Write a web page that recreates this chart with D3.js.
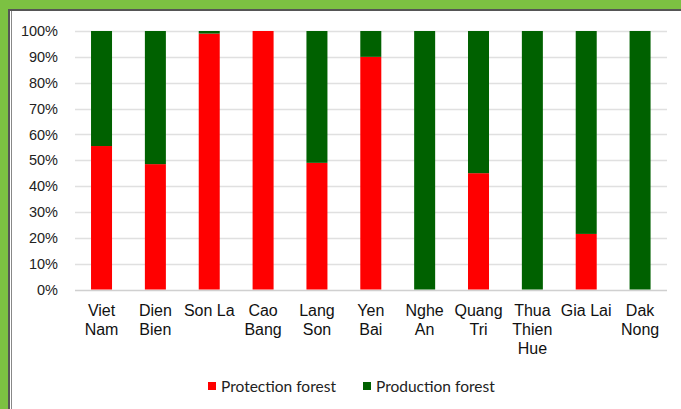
<!DOCTYPE html>
<html>
<head>
<meta charset="utf-8">
<script src="https://cdn.jsdelivr.net/npm/d3@7"></script>
<style>
  html, body { margin: 0; padding: 0; background: #7cc142; }
  svg { display: block; }
</style>
</head>
<body>
<svg width="681" height="409"></svg>
<script>
// provinces, two-line labels
const provinces = ["Viet Nam", "Dien Bien", "Son La", "Cao Bang", "Lang Son", "Yen Bai",
  "Nghe An", "Quang Tri", "Thua Thien Hue", "Gia Lai", "Dak Nong"];
const labelLines = [["Viet", "Nam"], ["Dien", "Bien"], ["Son La"], ["Cao", "Bang"], ["Lang", "Son"],
  ["Yen", "Bai"], ["Nghe", "An"], ["Quang", "Tri"], ["Thua", "Thien", "Hue"], ["Gia Lai"], ["Dak", "Nong"]];
// share of protection forest (%), rest is production forest
const protection = [55.5, 48.5, 99, 100, 49, 90, 0, 45, 0, 21.5, 0];
const production = protection.map(p => 100 - p);
const yTicks = [0, 10, 20, 30, 40, 50, 60, 70, 80, 90, 100];
const seriesNames = ["Protection forest", "Production forest"];
const seriesColors = ["#ff0000", "#006100"];

const svg = d3.select("svg");

// white chart area with dark frame
svg.append("rect")
  .attr("x", 9).attr("y", 10).attr("width", 700).attr("height", 420)
  .style("fill", "white").style("stroke", "#555").style("stroke-width", 2);
svg.append("line")
  .attr("x1", 11.5).attr("x2", 11.5).attr("y1", 11).attr("y2", 409)
  .style("stroke", "#888").style("stroke-width", 1);

const x = d3.scaleBand()
  .domain(provinces)
  .range([74.6, 667]);

const y = d3.scaleLinear()
  .domain([0, 100])
  .range([289.5, 31]);

// gridlines
svg.append("g")
  .selectAll("line")
  .data(yTicks)
  .enter()
  .append("line")
  .attr("x1", 75).attr("x2", 667)
  .attr("y1", d => Math.round(y(d)) + 0.5)
  .attr("y2", d => Math.round(y(d)) + 0.5)
  .style("stroke", d => d === 0 ? "#d0d0d0" : "#e0e0e0")
  .style("stroke-width", 1.5);

// y axis labels
const yAxis = d3.axisLeft(y)
  .tickValues(yTicks)
  .tickFormat(d => d + "%")
  .tickSize(0)
  .tickPadding(0);

svg.append("g")
  .attr("transform", "translate(58,0)")
  .call(yAxis)
  .call(g => g.select(".domain").remove())
  .selectAll("text")
  .style("font-family", "'Liberation Sans', Arial, sans-serif")
  .style("font-size", "14.5px")
  .style("fill", "#222");

// stacked bars
const stackData = provinces.map((p, i) => ({ name: p, protection: protection[i], production: production[i] }));
const stack = d3.stack().keys(["protection", "production"])(stackData);
const barW = x.bandwidth() * 0.39;

svg.append("g")
  .selectAll("g")
  .data(stack)
  .enter()
  .append("g")
  .style("fill", (d, i) => seriesColors[i])
  .selectAll("rect")
  .data(d => d)
  .enter()
  .append("rect")
  .attr("x", d => x(d.data.name) + (x.bandwidth() - barW) / 2)
  .attr("width", barW)
  .attr("y", d => y(d[1]))
  .attr("height", d => y(d[0]) - y(d[1]));

// category labels
const cats = svg.append("g")
  .selectAll("text")
  .data(provinces)
  .enter()
  .append("text")
  .attr("x", d => x(d) + x.bandwidth() / 2)
  .attr("y", 316)
  .attr("text-anchor", "middle")
  .style("font-family", "'Liberation Sans', Arial, sans-serif")
  .style("font-size", "16px")
  .style("fill", "#111");

cats.selectAll("tspan")
  .data((d, i) => labelLines[i])
  .enter()
  .append("tspan")
  .attr("x", function () { return d3.select(this.parentNode).attr("x"); })
  .attr("dy", (d, i) => i === 0 ? 0 : 19)
  .text(d => d);

// legend
const legendX = [208, 363];
const legend = svg.append("g")
  .selectAll("g")
  .data(seriesNames)
  .enter()
  .append("g")
  .attr("transform", (d, i) => `translate(${legendX[i]},382)`);

legend.append("rect")
  .attr("width", 8).attr("height", 8)
  .style("fill", (d, i) => seriesColors[i]);

legend.append("text")
  .attr("x", 13)
  .attr("y", 9.5)
  .text(d => d)
  .style("font-family", "Lato, 'Open Sans', sans-serif")
  .style("font-size", "15.5px")
  .style("fill", "#222");
</script>
</body>
</html>
